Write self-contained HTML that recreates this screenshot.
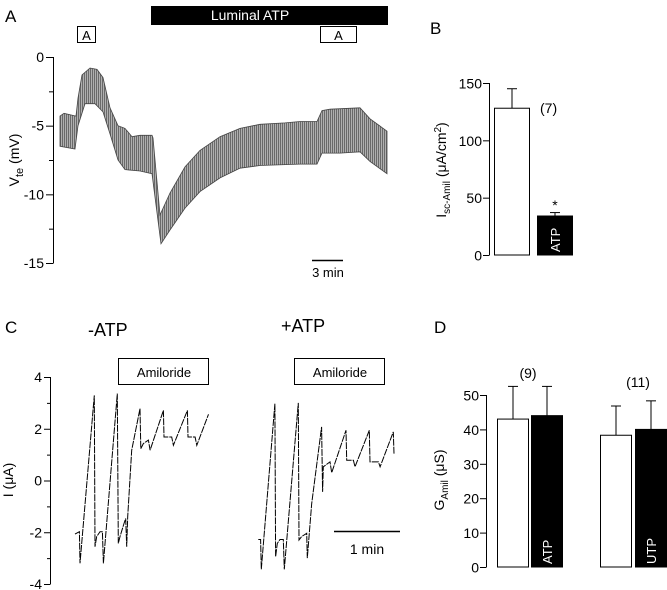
<!DOCTYPE html>
<html><head><meta charset="utf-8"><style>
html,body{margin:0;padding:0;background:#fff}
svg{display:block;font-family:"Liberation Sans",sans-serif}
</style></head><body>
<svg id="fig" width="667" height="590" viewBox="0 0 667 590">
<g id="pA"></g>
<g id="pB"></g>
<g id="pC"></g>
<g id="pD"></g>
</svg>
<script>
// ---------- Panel A data ----------
const aUpperX=[60,64,76,78,82,90,97,103,110,118,125,132,140,152,153,160,170,185,200,220,240,260,285,300,317,322,330,360,370,387];
const aUpperV=[-4.3,-4.1,-4.3,-3.0,-1.3,-0.8,-0.9,-1.5,-3.7,-5.0,-5.2,-5.8,-5.7,-5.7,-5.9,-11.5,-9.9,-8.0,-6.8,-5.8,-5.2,-4.9,-4.8,-4.7,-4.7,-3.9,-3.8,-3.7,-4.5,-5.4];
const aLowerX=[60,75,78,85,95,103,110,118,125,140,152,161,170,185,200,220,240,260,300,317,322,340,360,370,387];
const aLowerV=[-6.5,-6.7,-5.0,-3.4,-3.4,-4.0,-5.6,-7.5,-8.2,-8.3,-8.5,-13.6,-12.6,-11.0,-9.8,-8.8,-8.1,-7.9,-7.8,-7.8,-7.0,-7.0,-6.9,-7.6,-8.5];
const aTicks=[0,-5,-10,-15];
// ---------- Panel B data ----------
const bCats=["control","ATP"];
const bValues=[128,34];
const bErrors=[145,37];
const bTicks=[0,50,100,150];
// ---------- Panel C data ----------
const cLeftT=[0,3.9,4.5,17.3,17.9,19.4,22.4,24.5,25.4,37.9,38.8,40.3,43.9,45.4,46.3,47.2,50.8,58.2,58.9,61.2,65.7,67.2,79.1,79.7,86.6,88.1,100.6,101.2,107.5,109,119.5];
const cLeftV=[-2.07,-1.98,-3.2,3.29,-2.56,-2.17,-1.98,-1.98,-3.2,3.36,-2.43,-2.17,-1.66,-1.47,-2.56,-1.4,1.17,2.78,1.23,1.43,1.56,1.17,2.71,1.68,1.68,1.36,2.71,1.68,1.68,1.36,2.56];
const cRightT=[0,2.1,2.7,14.9,15.5,17,19.4,22.4,23.3,35.8,36.4,38.8,43.3,43.9,47.8,56.7,57.6,58.2,64.2,65.7,78.5,79.1,85.1,86.6,99.4,100,107.5,109,120.9,121.5];
const cRightV=[-2.28,-2.28,-3.43,2.97,-2.95,-2.43,-2.28,-2.28,-3.43,3.0,-2.3,-2.17,-2.04,-3.0,-0.89,2.07,-0.44,0.53,0.72,0.3,1.94,0.78,0.78,0.53,1.94,0.72,0.72,0.53,1.88,1.04];
const cTicks=[4,2,0,-2,-4];
// ---------- Panel D data ----------
const dCats=["control-atp","ATP","control-utp","UTP"];
const dValues=[43,44,38.3,40];
const dErrors=[52.5,52.5,46.8,48.3];
const dTicks=[0,10,20,30,40,50];

const NS="http://www.w3.org/2000/svg";
function mk(parent,tag,attrs,text){const e=document.createElementNS(NS,tag);for(const k in attrs)e.setAttribute(k,attrs[k]);if(text!==undefined)e.textContent=text;parent.appendChild(e);return e;}

// ===== Panel A =====
(function(){
const g=document.getElementById('pA');
const yA=v=>57+(-v)*(206/15);
let t=mk(g,'text',{x:5,y:22,'font-size':17});t.textContent='A';


let bar=mk(g,'rect',{x:151,y:6,width:237,height:19,fill:'#000'});


let bt=mk(g,'text',{x:250,y:20,'font-size':14,fill:'#fff','text-anchor':'middle'},'Luminal ATP');


[[77,95],[320,356]].forEach((b,i)=>{
 let r=mk(g,'rect',{x:b[0]+0.5,y:26.5,width:b[1]-b[0],height:16,fill:'#fff',stroke:'#000','stroke-width':1});
 
 
 let tt=mk(g,'text',{x:(b[0]+b[1])/2+0.5,y:40,'font-size':13,'text-anchor':'middle'},'A');
 
 
});
let ax=mk(g,'line',{x1:53.5,y1:57,x2:53.5,y2:263,stroke:'#000'});


for(let v=0;v>=-15;v-=2.5){const y=yA(v)+0.5;mk(g,'line',{x1:(v%5===0?46:49),y1:y,x2:53.5,y2:y,stroke:'#000'});}
aTicks.forEach(v=>{let e=mk(g,'text',{x:44,y:yA(v)+5,'font-size':14,'text-anchor':'end'},String(v));
 
 });
let yt=mk(g,'text',{transform:'translate(19,160) rotate(-90)','font-size':14,'text-anchor':'middle'});
yt.innerHTML='V<tspan font-size="11" dy="4">te</tspan><tspan dy="-4"> (mV)</tspan>';


const defs=mk(g,'defs',{});
const pat=mk(defs,'pattern',{id:'vh',width:2,height:4,patternUnits:'userSpaceOnUse'});
mk(pat,'rect',{width:2,height:4,fill:'#b0b0b0'});
mk(pat,'rect',{width:1,height:4,fill:'#6a6a6a'});
let pts=aUpperX.map((x,i)=>x+','+yA(aUpperV[i]).toFixed(1));
for(let i=aLowerX.length-1;i>=0;i--)pts.push(aLowerX[i]+','+yA(aLowerV[i]).toFixed(1));
let poly=mk(g,'polygon',{points:pts.join(' '),fill:'url(#vh)',stroke:'#444','stroke-width':0.8});


let sb=mk(g,'line',{x1:312,y1:260.5,x2:343,y2:260.5,stroke:'#000','stroke-width':1.5});


let sl=mk(g,'text',{x:328,y:277,'font-size':13,'text-anchor':'middle'},'3 min');


})();

// ===== Panel B =====
(function(){
const g=document.getElementById('pB');
const yB=v=>255-v*(172/150);
let t=mk(g,'text',{x:430,y:34,'font-size':17},'B');


let ax=mk(g,'line',{x1:489.5,y1:yB(150),x2:489.5,y2:yB(0),stroke:'#000'});


bTicks.forEach(v=>{const y=yB(v)+0.5;mk(g,'line',{x1:483,y1:y,x2:489.5,y2:y,stroke:'#000'});
 let e=mk(g,'text',{x:482,y:y+5,'font-size':14,'text-anchor':'end'},String(v));
 
 });
let yt=mk(g,'text',{transform:'translate(446,170) rotate(-90)','font-size':14,'text-anchor':'middle'});
yt.innerHTML='I<tspan font-size="10" dy="4">sc-Amil</tspan><tspan dy="-4">  (μA/cm</tspan><tspan font-size="10" dy="-5">2</tspan><tspan dy="5">)</tspan>';


const bx=[494.5,537.5];
bCats.forEach((c,i)=>{
 const x=bx[i],w=35,y=yB(bValues[i]),ye=yB(bErrors[i]);
 mk(g,'line',{x1:x+w/2,y1:y,x2:x+w/2,y2:ye,stroke:'#000'});
 mk(g,'line',{x1:x+w/2-5,y1:ye,x2:x+w/2+5,y2:ye,stroke:'#000'});
 let r=mk(g,'rect',{x:x,y:y,width:w,height:yB(0)-y,fill:i?'#000':'#fff',stroke:'#000'});
 
 
});
let l=mk(g,'text',{x:540,y:113,'font-size':14},'(7)');


let s=mk(g,'text',{x:555,y:210,'font-size':14,'text-anchor':'middle'},'*');


let at=mk(g,'text',{transform:'translate(560,252) rotate(-90)','font-size':13,fill:'#fff'},'ATP');


})();

// ===== Panel C =====
(function(){
const g=document.getElementById('pC');
const yC=v=>377+(4-v)*(207/8);
const pxs=1.117;
let t=mk(g,'text',{x:5,y:333,'font-size':17},'C');


let t1=mk(g,'text',{x:88,y:336,'font-size':18},'-ATP');


let t2=mk(g,'text',{x:281,y:332,'font-size':18},'+ATP');


[[118,208],[294,384]].forEach((b,i)=>{
 let r=mk(g,'rect',{x:b[0]+0.5,y:358.5,width:b[1]-b[0],height:26,fill:'#fff',stroke:'#000'});
 
 
 let tt=mk(g,'text',{x:(b[0]+b[1])/2+1,y:377,'font-size':13,'text-anchor':'middle'},'Amiloride');
 
 
});
let ax=mk(g,'line',{x1:50.5,y1:yC(4),x2:50.5,y2:yC(-4),stroke:'#000'});


for(let v=4;v>=-4;v--){const y=yC(v)+0.5;mk(g,'line',{x1:(v%2===0?44:47),y1:y,x2:50.5,y2:y,stroke:'#000'});}
cTicks.forEach(v=>{let e=mk(g,'text',{x:42,y:yC(v)+5,'font-size':14,'text-anchor':'end'},String(v));
 
 });
let yt=mk(g,'text',{transform:'translate(13,480) rotate(-90)','font-size':14,'text-anchor':'middle'},'I (μA)');


function trace(T,V,x0,name){
 const d=T.map((tt,i)=>(i?'L':'M')+(x0+tt*pxs).toFixed(1)+','+yC(V[i]).toFixed(1)).join(' ');
 let p=mk(g,'path',{d:d,fill:'none',stroke:'#000','stroke-width':1,'stroke-dasharray':'7 1'});
 
 
}
trace(cLeftT,cLeftV,75,'current-trace-minus-atp');
trace(cRightT,cRightV,258.3,'current-trace-plus-atp');
let sb=mk(g,'line',{x1:334,y1:531.5,x2:400,y2:531.5,stroke:'#000','stroke-width':1.5});


let sl=mk(g,'text',{x:367,y:554,'font-size':14,'text-anchor':'middle'},'1 min');


})();

// ===== Panel D =====
(function(){
const g=document.getElementById('pD');
const yD=v=>567-v*(172/50);
let t=mk(g,'text',{x:434,y:333,'font-size':17},'D');


let ax=mk(g,'line',{x1:486.5,y1:yD(50),x2:486.5,y2:yD(0),stroke:'#000'});


dTicks.forEach(v=>{const y=yD(v)+0.5;mk(g,'line',{x1:480,y1:y,x2:486.5,y2:y,stroke:'#000'});
 let e=mk(g,'text',{x:479,y:y+5,'font-size':14,'text-anchor':'end'},String(v));
 
 });
let yt=mk(g,'text',{transform:'translate(444,480) rotate(-90)','font-size':14,'text-anchor':'middle'});
yt.innerHTML='G<tspan font-size="10" dy="4">Amil</tspan><tspan dy="-4">  (μS)</tspan>';


const bx=[497.5,531.5,600.5,635.5];
dCats.forEach((c,i)=>{
 const x=bx[i],w=31,y=yD(dValues[i]),ye=yD(dErrors[i]);
 mk(g,'line',{x1:x+w/2,y1:y,x2:x+w/2,y2:ye,stroke:'#000'});
 mk(g,'line',{x1:x+w/2-5,y1:ye,x2:x+w/2+5,y2:ye,stroke:'#000'});
 let r=mk(g,'rect',{x:x,y:y,width:w,height:yD(0)-y,fill:(i%2)?'#000':'#fff',stroke:'#000'});
 
 
});
let n1=mk(g,'text',{x:528,y:378,'font-size':14,'text-anchor':'middle'},'(9)');


let n2=mk(g,'text',{x:638,y:387,'font-size':14,'text-anchor':'middle'},'(11)');


let l1=mk(g,'text',{transform:'translate(552,564) rotate(-90)','font-size':13,fill:'#fff'},'ATP');


let l2=mk(g,'text',{transform:'translate(656,564) rotate(-90)','font-size':13,fill:'#fff'},'UTP');


})();
</script>
</body></html>
